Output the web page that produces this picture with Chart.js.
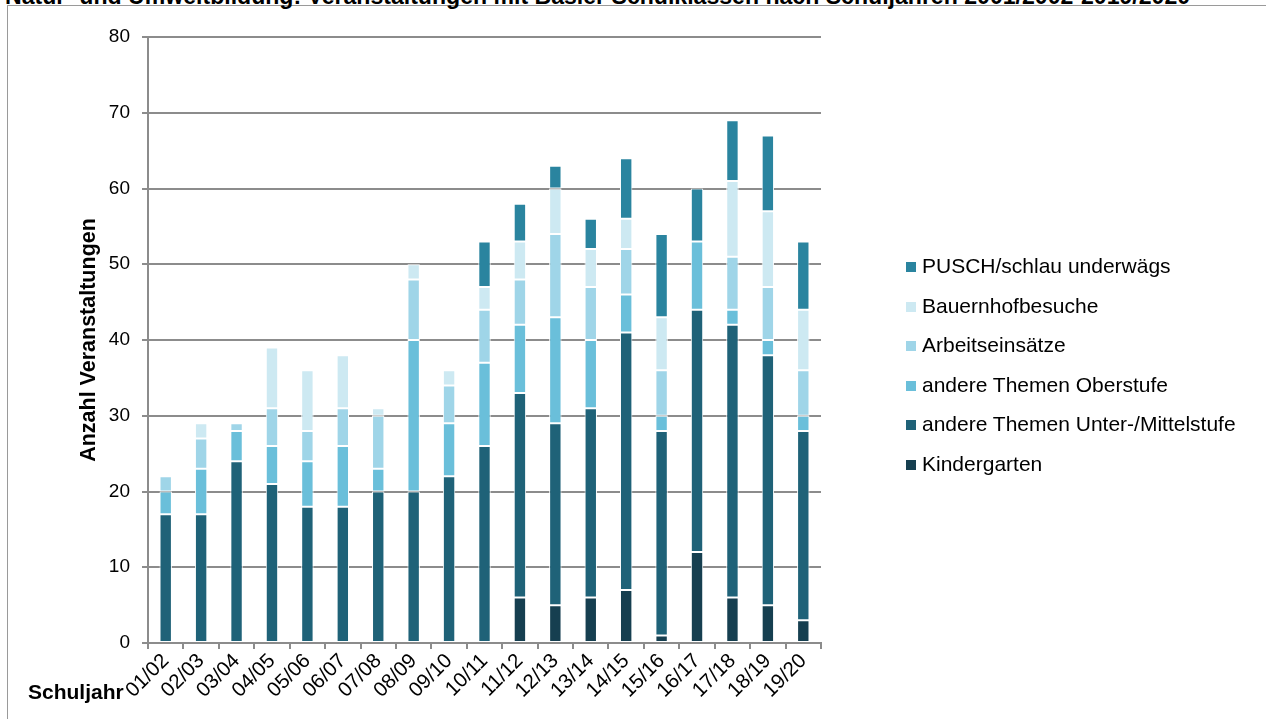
<!DOCTYPE html>
<html lang="de">
<head>
<meta charset="utf-8">
<title>Veranstaltungen mit Basler Schulklassen</title>
<script src="https://cdn.jsdelivr.net/npm/chart.js@4/dist/chart.umd.min.js"></script>
<style>
  html, body { margin: 0; padding: 0; background: #fff; }
  body { width: 1266px; height: 719px; overflow: hidden; position: relative;
         font-family: 'Liberation Sans', Arial, sans-serif; }
  #frame { position: absolute; left: 7px; top: 5px; width: 1300px; height: 800px;
           border: 1.5px solid #9a9a9a; box-sizing: border-box; }
  #title { position: absolute; left: 5px; top: -14px; white-space: nowrap;
           font-weight: bold; font-size: 20px; line-height: 20px; color: #000; }
  #chartBox { position: absolute; left: 0; top: 0; width: 1266px; height: 719px; }
  #xname { position: absolute; left: 28px; top: 680px; font-weight: bold;
           font-size: 21px; line-height: 24px; color: #000; }
  #legend { position: absolute; left: 906px; top: 0; }
  .item { position: absolute; left: 0; white-space: nowrap; font-size: 21px;
          color: #000; height: 24px; line-height: 24px; }
  .sw { display: inline-block; width: 10px; height: 10px; margin-right: 6px;
        vertical-align: 1px; }
</style>
</head>
<body>
<div id="frame"></div>
<div id="title">Natur- und Umweltbildung: Veranstaltungen mit Basler Schulklassen nach Schuljahren 2001/2002-2019/2020</div>
<div id="chartBox"><canvas id="c" width="1266" height="719"></canvas></div>
<div id="xname">Schuljahr</div>
<div id="legend"></div>
<script>
// School years (x categories)
const schoolYears = ['01/02','02/03','03/04','04/05','05/06','06/07','07/08','08/09','09/10','10/11',
                     '11/12','12/13','13/14','14/15','15/16','16/17','17/18','18/19','19/20'];

// Number of events per programme and school year (stacked bottom to top)
const kindergarten   = [0, 0, 0, 0, 0, 0, 0, 0, 0, 0, 6, 5, 6, 7, 1, 12, 6, 5, 3];
const unterMittel    = [17, 17, 24, 21, 18, 18, 20, 20, 22, 26, 27, 24, 25, 34, 27, 32, 36, 33, 25];
const oberstufe      = [3, 6, 4, 5, 6, 8, 3, 20, 7, 11, 9, 14, 9, 5, 2, 9, 2, 2, 2];
const arbeitseinsatz = [2, 4, 1, 5, 4, 5, 7, 8, 5, 7, 6, 11, 7, 6, 6, 0, 7, 7, 6];
const bauernhof      = [0, 2, 0, 8, 8, 7, 1, 2, 2, 3, 5, 6, 5, 4, 7, 0, 10, 10, 8];
const pusch          = [0, 0, 0, 0, 0, 0, 0, 0, 0, 6, 5, 3, 4, 8, 11, 7, 8, 10, 9];

// Axis ticks
const yTicks = [0, 10, 20, 30, 40, 50, 60, 70, 80];

const seriesNames  = ['Kindergarten', 'andere Themen Unter-/Mittelstufe', 'andere Themen Oberstufe',
                      'Arbeitseinsätze', 'Bauernhofbesuche', 'PUSCH/schlau underwägs'];
const seriesValues = [kindergarten, unterMittel, oberstufe, arbeitseinsatz, bauernhof, pusch];
const seriesColors = ['#163f50', '#1f6278', '#6abfda', '#9fd5e8', '#cde9f2', '#2a849f'];

const FONT = "'Liberation Sans', Arial, sans-serif";
const GRID = '#8c8c8c';

// Fit the heading to its line width
(function () {
  const t = document.getElementById('title');
  const target = 1185;
  const w = t.getBoundingClientRect().width;
  t.style.fontSize = (20 * target / w).toFixed(2) + 'px';
})();

// Legend: top entry is the top of the stack
(function () {
  const lg = document.getElementById('legend');
  const rowY = [266, 305.5, 345, 384.5, 424, 463.5];
  for (let i = 0; i < seriesNames.length; i++) {
    const k = seriesNames.length - 1 - i;
    const d = document.createElement('div');
    d.className = 'item';
    d.style.top = (rowY[i] - 12) + 'px';
    d.innerHTML = '<span class="sw" style="background:' + seriesColors[k] + '"></span>' + seriesNames[k];
    lg.appendChild(d);
  }
})();

const datasets = seriesValues.map((vals, i) => ({
  label: seriesNames[i],
  data: vals,
  backgroundColor: seriesColors[i],
  borderColor: '#ffffff',
  borderWidth: 1,
  borderSkipped: false,
  barPercentage: 0.35,
  categoryPercentage: 1.0
}));

new Chart(document.getElementById('c'), {
  type: 'bar',
  data: { labels: schoolYears, datasets },
  options: {
    responsive: false,
    animation: false,
    devicePixelRatio: 1,
    layout: { padding: { left: 0, top: 37, right: 445, bottom: 0 } },
    plugins: { legend: { display: false }, tooltip: { enabled: false }, title: { display: false } },
    scales: {
      x: {
        stacked: true,
        afterFit: (s) => { s.height = 76; },
        grid: { offset: true, drawOnChartArea: false, drawTicks: true, tickLength: 6,
                color: GRID, lineWidth: 2 },
        border: { color: GRID, width: 2 },
        ticks: { autoSkip: false, maxRotation: 45, minRotation: 45, padding: 0,
                 color: '#000', font: { family: FONT, size: 20.5 } }
      },
      y: {
        stacked: true,
        min: yTicks[0],
        max: yTicks[yTicks.length - 1],
        afterFit: (s) => { s.width = 148; },
        afterBuildTicks: (s) => { s.ticks = yTicks.map(v => ({ value: v })); },
        grid: { color: GRID, lineWidth: 2, tickLength: 6, drawTicks: true },
        border: { color: GRID, width: 2 },
        ticks: { color: '#000', padding: 12, font: { family: FONT, size: 19 } },
        title: { display: true, text: 'Anzahl Veranstaltungen', color: '#000',
                 font: { family: FONT, size: 21.5, weight: 'bold' }, padding: { top: 76, bottom: 0 } }
      }
    }
  }
});
</script>
</body>
</html>
